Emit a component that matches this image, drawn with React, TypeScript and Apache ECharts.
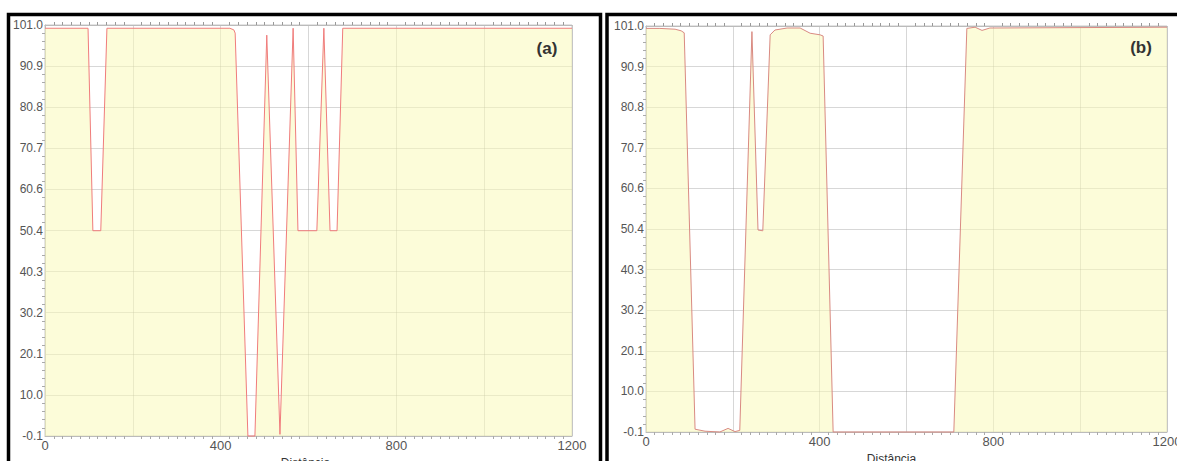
import React, { useEffect, useRef } from "react";
import * as echarts from "echarts";

// ---- data ----
const xTickLabels = [0, 400, 800, 1200];
const yTickLabels = ["-0.1", "10.0", "20.1", "30.2", "40.3", "50.4", "60.6", "70.7", "80.8", "90.9", "101.0"];
const Y_MIN = -0.1;
const Y_STEP = 10.11;

// panel (a)
const distA = [0, 98, 109, 127, 141, 421, 430, 433, 462, 478, 505, 535, 565, 576, 619, 635, 649, 665, 678, 1200];
const valA = [100.2, 100.2, 50.4, 50.4, 100.2, 100.2, 99.8, 99.0, -0.1, -0.1, 98.5, 0.3, 100.2, 50.4, 50.4, 100.2, 50.4, 50.4, 100.2, 100.2];

// panel (b)
const distB = [0, 32, 67, 81, 88, 113, 136, 170, 189, 205, 216, 244, 258, 269, 286, 297, 325, 355, 378, 401, 408, 431, 709, 739, 758, 774, 792, 1200];
const valB = [100.4, 100.4, 100.2, 99.8, 99.3, 0.6, 0.1, -0.1, 0.8, 0, 0.3, 99.6, 50.2, 50.0, 98.8, 100.0, 100.5, 100.5, 99.2, 98.8, 98.5, -0.1, -0.1, 100.4, 100.7, 99.9, 100.5, 100.7];

const toAxis = (v: number) => (v - Y_MIN) / Y_STEP;

export default function App() {
  const ref = useRef<HTMLDivElement>(null);

  useEffect(() => {
    if (!ref.current) return;
    const chart = echarts.init(ref.current, undefined, { renderer: "svg" });

    const gridLineColor = "rgba(140,140,140,0.35)";
    const labelColor = "#555";
    const font = "Liberation Sans, Arial, sans-serif";

    const makeX = (gridIndex: number, shift: number) => ({
      type: "value",
      gridIndex,
      min: 0,
      max: 1200,
      interval: 200,
      name: "Distância",
      nameLocation: "middle",
      nameGap: 19,
      nameTextStyle: {
        color: "#333",
        fontSize: 12,
        fontFamily: font,
        padding: shift >= 0 ? [0, 0, 0, shift] : [0, -shift, 0, 0],
      },
      axisLine: { show: true, lineStyle: { color: "#bbb" } },
      axisTick: { show: false },
      minorTick: { show: true, splitNumber: 10, length: 3, lineStyle: { color: "#aaa" } },
      axisLabel: {
        color: labelColor,
        fontSize: 13,
        fontFamily: font,
        margin: 3,
        formatter: (v: number) => (xTickLabels.includes(v) ? String(v) : ""),
      },
      splitLine: { show: true, lineStyle: { color: gridLineColor, width: 1 } },
    });

    const makeXTop = (gridIndex: number) => ({
      type: "value",
      gridIndex,
      position: "top",
      min: 0,
      max: 1200,
      interval: 200,
      axisLine: { show: true, lineStyle: { color: "#bbb" } },
      axisTick: { show: false },
      minorTick: { show: true, splitNumber: 10, length: 3, lineStyle: { color: "#999" } },
      axisLabel: { show: false },
      splitLine: { show: false },
    });

    const makeY = (gridIndex: number) => ({
      type: "value",
      gridIndex,
      min: 0,
      max: 10,
      interval: 1,
      axisLine: { show: true, lineStyle: { color: "#bbb" } },
      axisTick: { show: false },
      minorTick: { show: true, splitNumber: 5, length: 3, lineStyle: { color: "#aaa" } },
      axisLabel: {
        color: labelColor,
        fontSize: 12,
        fontFamily: font,
        margin: 2,
        formatter: (v: number) => yTickLabels[Math.round(v)] ?? "",
      },
      splitLine: { show: true, lineStyle: { color: gridLineColor, width: 1 } },
    });

    const makeSeries = (xi: number, yi: number, xs: number[], ys: number[], color: string) => ({
      type: "line",
      xAxisIndex: xi,
      yAxisIndex: yi,
      data: xs.map((x, i) => [x, toAxis(ys[i])]),
      showSymbol: false,
      symbol: "none",
      clip: false,
      lineStyle: { color, width: 1 },
      areaStyle: { color: "rgb(250,250,185)", opacity: 0.55 },
      z: 3,
    });

    chart.setOption({
      animation: false,
      backgroundColor: "#fff",
      grid: [
        { left: 45, top: 25, width: 527, height: 411, show: true, borderColor: "#c8c8c8", backgroundColor: "#fff", outerBoundsMode: "none", containLabel: false },
        { left: 646, top: 26, width: 521, height: 406, show: true, borderColor: "#c8c8c8", backgroundColor: "#fff", outerBoundsMode: "none", containLabel: false },
      ],
      xAxis: [makeX(0, -6), makeX(1, -30), makeXTop(0), makeXTop(1)],
      yAxis: [makeY(0), makeY(1)],
      series: [
        makeSeries(0, 0, distA, valA, "#F07C7C"),
        makeSeries(1, 1, distB, valB, "#D98A82"),
      ],
      graphic: [
        { type: "rect", shape: { x: 8.5, y: 14.5, width: 592, height: 470 }, style: { fill: "none", stroke: "#000", lineWidth: 3.5 }, z: 100 },
        { type: "rect", shape: { x: 607, y: 14.5, width: 590, height: 470 }, style: { fill: "none", stroke: "#000", lineWidth: 3.5 }, z: 100 },
        { type: "text", x: 547, y: 48, style: { text: "(a)", fill: "#333", font: "bold 17px Liberation Sans, Arial, sans-serif", align: "center", verticalAlign: "middle" }, z: 100 },
        { type: "text", x: 1141, y: 47, style: { text: "(b)", fill: "#333", font: "bold 17px Liberation Sans, Arial, sans-serif", align: "center", verticalAlign: "middle" }, z: 100 },
      ],
    });

    return () => chart.dispose();
  }, []);

  return (
    <div
      ref={ref}
      style={{ position: "fixed", left: 0, top: 0, width: 1177, height: 461 }}
    />
  );
}
